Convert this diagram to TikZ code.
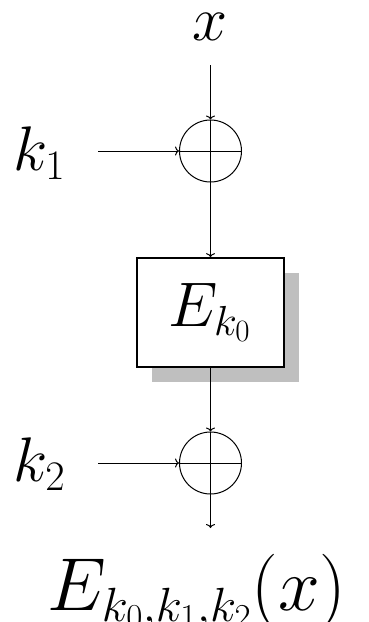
\RequirePackage{fix-cm}
\documentclass[tikz,border=0pt]{standalone}
\usetikzlibrary{shadows,arrows.meta}
\DeclareMathSizes{63}{63}{42}{31}
\DeclareMathSizes{75}{75}{48}{35}
\begin{document}
\begin{tikzpicture}[x=1pt,y=-1pt,
  thin line/.style={line width=1pt},
  arr/.style={line width=1pt, -{To[length=4pt,width=9pt]}},
  xorc/.style={circle, draw, line width=1pt, minimum size=62pt, inner sep=0pt},
  cipher/.style={draw, line width=1.7pt, fill=white, minimum width=147pt, minimum height=109pt, inner sep=0pt,
    drop shadow={shadow xshift=15pt, shadow yshift=-15pt, fill=black!25, opacity=1}},
  lbl/.style={inner sep=0pt, font=\fontsize{63}{68}\selectfont},
  biglbl/.style={inner sep=0pt, font=\fontsize{75}{80}\selectfont}
]
\useasboundingbox (0,0) rectangle (369,622);
% labels
\node[lbl, anchor=base] (x) at (210.5,40) {$x$};
\node[lbl, anchor=base west] (k1) at (13,170) {$k_1$};
\node[lbl, anchor=base west] (k2) at (13,481) {$k_2$};
% components
\node[xorc] (c1) at (210.5,151) {};
\node[cipher] (E) at (210.5,312.5) {};
\node[lbl, anchor=base] (Et) at (209.5,326) {$E_{k_0}$};
\node[xorc] (c2) at (210.5,463) {};
\node[biglbl, anchor=base] (out) at (197,610) {$E_{k_0,k_1,k_2}(x)$};
% free ends
\coordinate (xin) at (210.5,65);
\coordinate (k1in) at (98,151);
\coordinate (k2in) at (98,463);
\coordinate (oend) at (210.5,528);
% crosses
\draw[thin line] (c1.north) -- (c1.south) (c1.west) -- (c1.east);
\draw[thin line] (c2.north) -- (c2.south) (c2.west) -- (c2.east);
% arrows
\draw[arr] (xin) -- (c1.north);
\draw[arr] (k1in) -- (c1.west);
\draw[arr] (c1.south) -- (E.north);
\draw[arr] (E.south) -- (c2.north);
\draw[arr] (k2in) -- (c2.west);
\draw[arr] (c2.south) -- (oend);
\end{tikzpicture}
\end{document}
